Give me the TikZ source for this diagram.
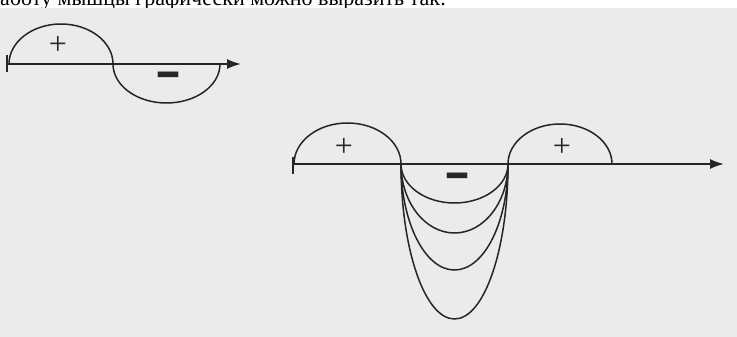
\documentclass[tikz,border=0pt]{standalone}
\usepackage{fontspec}
\setmainfont{Liberation Serif}
\usetikzlibrary{arrows.meta}
\definecolor{ink}{HTML}{262626}
\definecolor{paper}{HTML}{EBEBEB}
\begin{document}
\begin{tikzpicture}[x=1pt,y=1pt,
  curve/.style={draw=ink, line width=1.5pt},
  axisline/.style={draw=ink, line width=1.6pt, -{Latex[length=14pt,width=10pt]}},
  tickline/.style={draw=ink, line width=2.2pt},
  plussign/.style={text=ink, font=\fontsize{32}{32}\selectfont, inner sep=0pt},
  minussign/.style={text=ink, font=\fontsize{20}{20}\selectfont\bfseries, inner sep=0pt},
  headline/.style={text=black, font=\fontsize{22}{22}\selectfont, inner sep=0pt, anchor=base west}
]
\useasboundingbox (0,0) rectangle (737,337);
\fill[white] (0,0) rectangle (737,337);
\fill[paper] (0,0) rectangle (737,329);
\begin{scope}
  \clip (0,329) rectangle (737,337);
  \node[headline] (head) at (0,331.5) {аботу мышцы графически можно выразить так:};
\end{scope}

% first graph
\coordinate (a1s) at (8,273);
\coordinate (a1e) at (241,273);
\coordinate (t1a) at (7,265);
\coordinate (t1b) at (7,282);
\draw[tickline] (t1a) -- (t1b);
\draw[axisline] (a1s) -- (a1e);
\draw[curve] (9,273) arc[start angle=180, end angle=0, x radius=52, y radius=40];
\draw[curve] (113,273) arc[start angle=180, end angle=360, x radius=53.5, y radius=39];
\node[plussign] (p1) at (58,291.5) {+};
\node[minussign] (m1) at (168,254) {\scalebox{2}[4]{–}};

% second graph
\coordinate (a2s) at (294,173);
\coordinate (a2e) at (724,173);
\coordinate (t2a) at (293,163);
\coordinate (t2b) at (293,180);
\draw[tickline] (t2a) -- (t2b);
\draw[axisline] (a2s) -- (a2e);
\draw[curve] (294,173) arc[start angle=180, end angle=0, x radius=53.5, y radius=41];
\foreach \d in {39,69,106,155}{
  \draw[curve] (401,173) arc[start angle=180, end angle=360, x radius=53.5, y radius=\d];
}
\draw[curve] (508,173) arc[start angle=180, end angle=0, x radius=52, y radius=40];
\node[plussign] (p2) at (344,190) {+};
\node[plussign] (p3) at (562,190) {+};
\node[minussign] (m2) at (457,153) {\scalebox{2}[4]{–}};
\end{tikzpicture}
\end{document}
